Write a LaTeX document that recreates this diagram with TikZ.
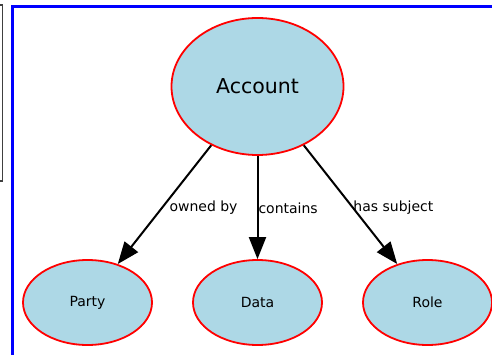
\documentclass[tikz,border=0pt]{standalone}
\usepackage{fontspec}
\setmainfont{DejaVu Sans}
\usetikzlibrary{shapes.geometric,arrows.meta}
\definecolor{nodefill}{HTML}{ADD8E6}
\tikzset{
  ent/.style={ellipse, draw=red, fill=nodefill, line width=1.8pt, inner sep=0pt,
              font=\fontsize{14}{16}\selectfont},
  big/.style={minimum width=172pt, minimum height=137pt, font=\fontsize{20.5}{24}\selectfont},
  small/.style={minimum width=129pt, minimum height=85pt},
  rel/.style={draw=black, line width=2pt, -{Triangle[length=22pt,width=17pt]}},
  lbl/.style={font=\fontsize{14}{16}\selectfont, anchor=west, inner sep=2pt, pos=0.5}
}
\begin{document}
\begin{tikzpicture}[x=1pt,y=-1pt]
\useasboundingbox (0,0) rectangle (492,355);
\draw[black!75, line width=1.4pt] (-10,5) rectangle (2.5,181);
\draw[blue, line width=3pt] (12.5,7) rectangle (530,400);
\node[ent,big] (acc) at (257.5,86.5) {Account};
\node[ent,small] (party) at (87.5,302.5) {Party};
\node[ent,small] (data) at (257.5,302.5) {Data};
\node[ent,small] (role) at (427.5,302.5) {Role};
\draw[rel] (acc) -- node[lbl, xshift=2pt, yshift=-3pt] {owned by} (party);
\draw[rel] (acc) -- node[lbl, xshift=-2pt, yshift=-1pt] {contains} (data);
\draw[rel] (acc) -- node[lbl, yshift=-3pt] {has subject} (role);
\end{tikzpicture}
\end{document}
